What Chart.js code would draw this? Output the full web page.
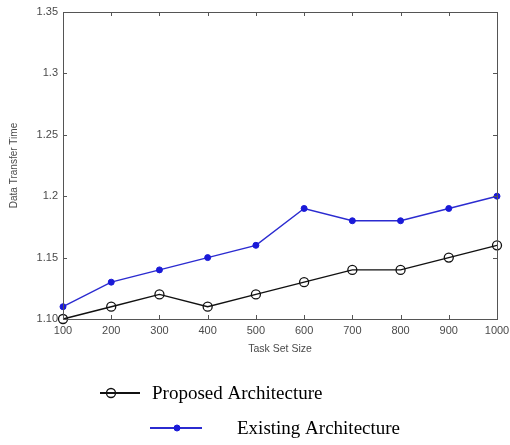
<!DOCTYPE html>
<html>
<head>
<meta charset="utf-8">
<script src="https://cdn.jsdelivr.net/npm/chart.js@4.4.1/dist/chart.umd.min.js"></script>
<style>
  html, body { margin: 0; padding: 0; background: #fff; }
  #wrap { width: 510px; height: 445px; position: relative; }
</style>
</head>
<body>
<div id="wrap"><canvas id="c" width="510" height="445"></canvas></div>
<script>
// Task set sizes on the x axis
const taskSetSizes = [100, 200, 300, 400, 500, 600, 700, 800, 900, 1000];
// Data transfer time per architecture
const proposedTimes = [1.10, 1.11, 1.12, 1.11, 1.12, 1.13, 1.14, 1.14, 1.15, 1.16];
const existingTimes = [1.11, 1.13, 1.14, 1.15, 1.16, 1.19, 1.18, 1.18, 1.19, 1.20];
// Y tick labels as printed
const yTickValues = [1.10, 1.15, 1.20, 1.25, 1.30, 1.35];
const yTickLabels = ['1.10', '1.15', '1.2', '1.25', '1.3', '1.35'];
const xTickLabels = ['100', '200', '300', '400', '500', '600', '700', '800', '900', '1000'];
const seriesNames = ['Proposed Architecture', 'Existing Architecture'];

const pairs = (xs, ys) => xs.map((x, i) => ({ x: x, y: ys[i] }));

const AXIS_COLOR = '#555';
const TICK_TEXT = '#4a4a4a';
const SANS = '"Liberation Sans", Arial, sans-serif';

// Draws the closed frame, inward tick marks and the offset legend
const framePlugin = {
  id: 'frame',
  afterDraw(chart) {
    const ctx = chart.ctx;
    const a = chart.chartArea;
    const xs = chart.scales.x, ys = chart.scales.y;
    ctx.save();
    ctx.strokeStyle = AXIS_COLOR;
    ctx.lineWidth = 1;
    ctx.strokeRect(a.left + 0.5, a.top + 0.5, a.right - a.left, a.bottom - a.top);
    ctx.beginPath();
    taskSetSizes.forEach(v => {
      const px = Math.round(xs.getPixelForValue(v)) + 0.5;
      ctx.moveTo(px, a.bottom); ctx.lineTo(px, a.bottom - 4);
      ctx.moveTo(px, a.top); ctx.lineTo(px, a.top + 4);
    });
    yTickValues.forEach(v => {
      const py = Math.round(ys.getPixelForValue(v)) + 0.5;
      ctx.moveTo(a.left, py); ctx.lineTo(a.left + 4, py);
      ctx.moveTo(a.right, py); ctx.lineTo(a.right - 4, py);
    });
    ctx.stroke();

    // Legend below the plot
    const ds = chart.data.datasets;
    const rows = [
      { x0: 100, x1: 140, y: 393, mx: 111, tx: 152 },
      { x0: 150, x1: 202, y: 428, mx: 177, tx: 237 }
    ];
    rows.forEach((r, i) => {
      const d = ds[i];
      ctx.strokeStyle = d.borderColor;
      ctx.lineWidth = 2;
      ctx.beginPath();
      ctx.moveTo(r.x0, r.y); ctx.lineTo(r.x1, r.y);
      ctx.stroke();
      ctx.beginPath();
      ctx.arc(r.mx, r.y, d.pointRadius, 0, Math.PI * 2);
      ctx.fillStyle = d.pointBackgroundColor;
      ctx.fill();
      ctx.lineWidth = d.pointBorderWidth;
      ctx.strokeStyle = d.pointBorderColor;
      ctx.stroke();
      ctx.fillStyle = '#000';
      ctx.font = '19px "Liberation Serif", "Times New Roman", serif';
      ctx.textBaseline = 'middle';
      ctx.textAlign = 'left';
      ctx.fillText(seriesNames[i], r.tx, r.y + 1);
    });
    ctx.restore();
  }
};

new Chart(document.getElementById('c'), {
  type: 'line',
  data: {
    datasets: [
      {
        label: seriesNames[0],
        data: pairs(taskSetSizes, proposedTimes),
        borderColor: '#111',
        borderWidth: 1.4,
        pointRadius: 4.5,
        pointBackgroundColor: 'rgba(255,255,255,0)',
        pointBorderColor: '#111',
        pointBorderWidth: 1.3,
        tension: 0
      },
      {
        label: seriesNames[1],
        data: pairs(taskSetSizes, existingTimes),
        borderColor: '#2b2bd0',
        borderWidth: 1.4,
        pointRadius: 3,
        pointBackgroundColor: '#1a1ad8',
        pointBorderColor: '#1a1ad8',
        pointBorderWidth: 1,
        tension: 0
      }
    ]
  },
  options: {
    responsive: false,
    animation: false,
    clip: false,
    layout: { padding: { left: 0, right: 13, top: 12, bottom: 90 } },
    plugins: {
      legend: { display: false },
      tooltip: { enabled: false }
    },
    scales: {
      x: {
        type: 'linear',
        min: 100,
        max: 1000,
        afterBuildTicks: s => { s.ticks = taskSetSizes.map(v => ({ value: v })); },
        afterFit: s => { s.height = 36; s.paddingLeft = 0; s.paddingRight = 0; },
        grid: { display: false, drawTicks: false },
        border: { display: false },
        ticks: {
          color: TICK_TEXT,
          font: { family: SANS, size: 11 },
          padding: 5,
          maxRotation: 0,
          autoSkip: false,
          callback: (v, i) => xTickLabels[i]
        },
        title: {
          display: true,
          text: 'Task Set Size',
          color: TICK_TEXT,
          font: { family: SANS, size: 10.5 },
          padding: { top: 2, bottom: 0 }
        }
      },
      y: {
        type: 'linear',
        min: 1.10,
        max: 1.35,
        afterBuildTicks: s => { s.ticks = yTickValues.map(v => ({ value: v })); },
        afterFit: s => { s.width = 63; s.paddingTop = 0; s.paddingBottom = 0; },
        grid: { display: false, drawTicks: false },
        border: { display: false },
        ticks: {
          color: TICK_TEXT,
          font: { family: SANS, size: 11 },
          padding: 5,
          callback: (v, i) => yTickLabels[i]
        },
        title: {
          display: true,
          text: 'Data Transfer Time',
          color: TICK_TEXT,
          font: { family: SANS, size: 10 },
          padding: { top: 8, bottom: 6 }
        }
      }
    }
  },
  plugins: [framePlugin]
});
</script>
</body>
</html>
